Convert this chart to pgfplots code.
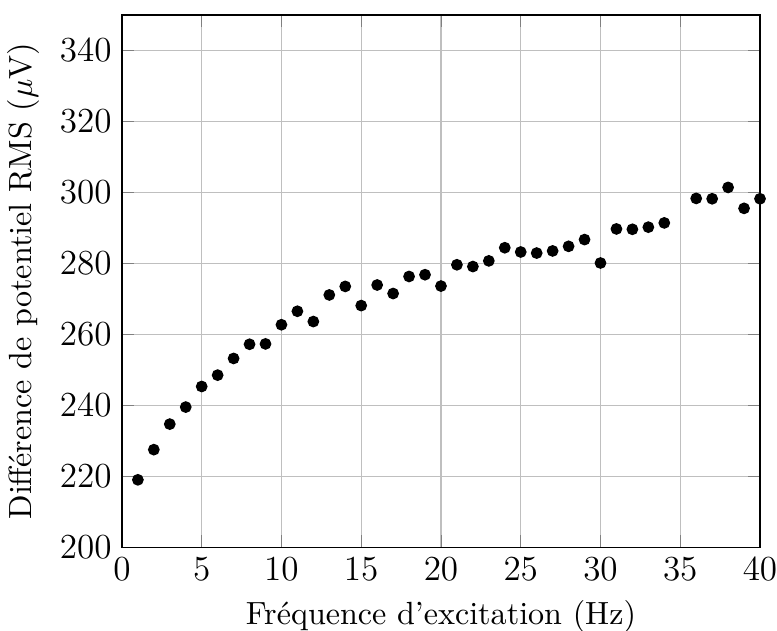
\documentclass[border=0pt]{standalone}
\usepackage{pgfplots}
\pgfplotsset{compat=1.18}
\begin{document}
\begin{tikzpicture}
\begin{axis}[
  scale only axis,
  width=217.7pt, height=181.6pt,
  xmin=0, xmax=40, ymin=200, ymax=350,
  xtick={0,5,...,40},
  ytick={200,220,...,340},
  tick label style={font=\large},
  label style={font=\fontsize{10.95}{13.6}\selectfont},
  grid=major,
  xlabel={Fréquence d'excitation (Hz)},
  ylabel={Différence de potentiel RMS ($\mu$V)},
]
\addplot[only marks, mark=*, mark size=1.8pt, black] coordinates {
(1,219.0) (2,227.5) (3,234.7) (4,239.5) (5,245.3) (6,248.5) (7,253.2) (8,257.2)
(9,257.3) (10,262.7) (11,266.5) (12,263.6) (13,271.1) (14,273.5) (15,268.1)
(16,273.9) (17,271.5) (18,276.3) (19,276.8) (20,273.6) (21,279.6) (22,279.1)
(23,280.7) (24,284.4) (25,283.2) (26,282.9) (27,283.5) (28,284.8) (29,286.7)
(30,280.1) (31,289.7) (32,289.6) (33,290.2) (34,291.4) (36,298.3) (37,298.2)
(38,301.4) (39,295.5) (40,298.2)
};
\end{axis}
\pgfresetboundingbox
\path ([shift={(-41.6pt,-28.3pt)}]current axis.south west) rectangle ([shift={(5.8pt,5.1pt)}]current axis.north east);
\end{tikzpicture}
\end{document}
